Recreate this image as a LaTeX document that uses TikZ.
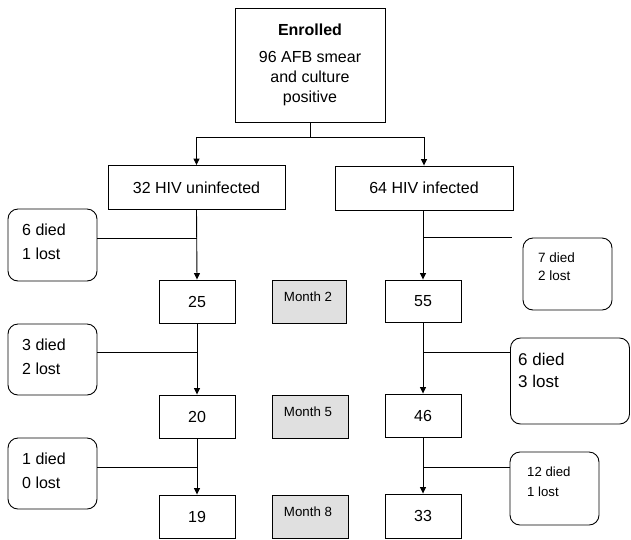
\documentclass[tikz,border=0pt]{standalone}
\usepackage{fontspec}
\setmainfont{Liberation Sans}
\usetikzlibrary{arrows.meta}
\definecolor{boxgray}{HTML}{E0E0E0}
\tikzset{
  base/.style={draw=black, line width=0.9pt, inner sep=0pt},
  sqbox/.style={base, minimum width=#1, font=\fontsize{16}{20}\selectfont},
  rbox/.style={base, rounded corners=10pt},
  monthbox/.style={base, fill=boxgray},
  mtext/.style={font=\fontsize{13.3}{16}\selectfont, inner sep=0pt},
  ltext/.style={anchor=west, align=left, inner sep=0pt},
  conn/.style={line width=0.9pt},
  arr/.style={conn, -{Triangle[length=6.5pt,width=6pt]}}
}
\begin{document}
\begin{tikzpicture}[x=1pt,y=-1pt]
\useasboundingbox (0,0) rectangle (631,539);
% main boxes
\node[sqbox=150pt, minimum height=114pt, align=center] (enr) at (310,65)
  {\textbf{Enrolled}\\[7pt]96 AFB smear\\and culture\\positive};
\node[sqbox=177pt, minimum height=44pt] (unin) at (196.5,187.5) {32 HIV uninfected};
\node[sqbox=178pt, minimum height=44pt] (inf) at (424,188) {64 HIV infected};
\node[sqbox=76pt, minimum height=43pt] (b25) at (197,301.5) {25};
\node[sqbox=76pt, minimum height=43pt] (b20) at (197,416.5) {20};
\node[sqbox=76pt, minimum height=43pt] (b19) at (197,516.5) {19};
\node[sqbox=76pt, minimum height=42pt] (b55) at (423,301) {55};
\node[sqbox=76pt, minimum height=43pt] (b46) at (423,415.5) {46};
\node[sqbox=76pt, minimum height=44pt] (b33) at (423,516) {33};
% month boxes
\node[monthbox, minimum width=74pt, minimum height=43pt] (m2) at (309,301.5) {};
\node[monthbox, minimum width=76pt, minimum height=43pt] (m5) at (310,416.5) {};
\node[monthbox, minimum width=76pt, minimum height=43pt] (m8) at (310,516.5) {};
\node[mtext] (m2t) at (308,297) {Month 2};
\node[mtext] (m5t) at (308,411.5) {Month 5};
\node[mtext] (m8t) at (308,511.5) {Month 8};
% rounded loss boxes
\node[rbox, minimum width=89pt, minimum height=72pt] (d1) at (52.5,245) {};
\node[rbox, minimum width=89pt, minimum height=71pt] (d2) at (52.5,359.5) {};
\node[rbox, minimum width=89pt, minimum height=71pt] (d3) at (52.5,473.5) {};
\node[rbox, minimum width=89pt, minimum height=72pt] (r1) at (567.5,274) {};
\node[rbox, minimum width=119pt, minimum height=86pt] (r2) at (570,381) {};
\node[rbox, minimum width=89pt, minimum height=73pt] (r3) at (554.5,488.5) {};
\node[ltext, font=\fontsize{16}{24}\selectfont] (d1t) at (22,242) {6 died\\1 lost};
\node[ltext, font=\fontsize{16}{24}\selectfont] (d2t) at (22,356.5) {3 died\\2 lost};
\node[ltext, font=\fontsize{16}{24}\selectfont] (d3t) at (22,471) {1 died\\0 lost};
\node[ltext, font=\fontsize{13.5}{18}\selectfont] (r1t) at (538,267) {7 died\\2 lost};
\node[ltext, font=\fontsize{17}{22}\selectfont] (r2t) at (518,370) {6 died\\3 lost};
\node[ltext, font=\fontsize{13.2}{20}\selectfont] (r3t) at (527,481.5) {12 died\\1 lost};
% connectors
\coordinate (j0) at (310,137);
\draw[conn] (enr.south) -- (j0);
\draw[arr] (j0) -| (unin.north);
\draw[arr] (j0) -| (inf.north);
\draw[arr] (unin.south) -- (b25.north);
\draw[arr] (b25.south) -- (b20.north);
\draw[arr] (b20.south) -- (b19.north);
\draw[arr] (inf.south -| b55.north) -- (b55.north);
\draw[arr] (b55.south) -- (b46.north);
\draw[arr] (b46.south) -- (b33.north);
\coordinate (jl1) at (197,238);
\coordinate (jl2) at (197,352);
\coordinate (jl3) at (197,467);
\draw[conn] (jl1 -| d1.east) -- (jl1);
\draw[conn] (jl2 -| d2.east) -- (jl2);
\draw[conn] (jl3 -| d3.east) -- (jl3);
\coordinate (jr1) at (423,237);
\coordinate (jr1e) at (512,237);
\coordinate (jr2) at (423,352);
\coordinate (jr3) at (423,467);
\draw[conn] (jr1) -- (jr1e);
\draw[conn] (jr2) -- (jr2 -| r2.west);
\draw[conn] (jr3) -- (jr3 -| r3.west);
\end{tikzpicture}
\end{document}
